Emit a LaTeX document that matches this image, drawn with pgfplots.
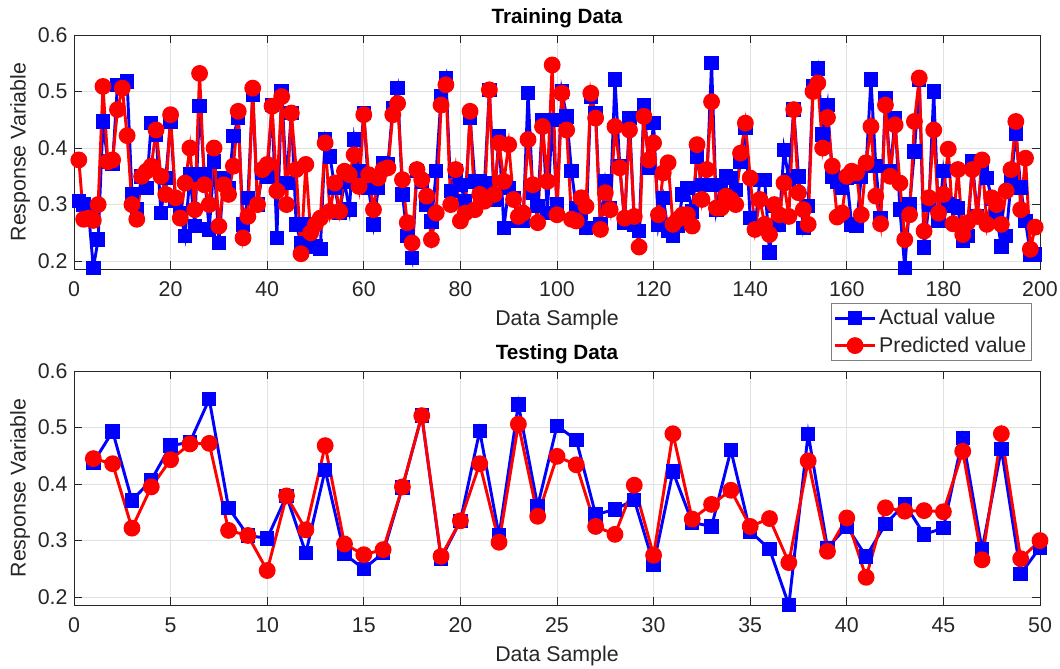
\documentclass[border=0pt]{standalone}
\usepackage{fontspec}
\setmainfont{Liberation Sans}
\usepackage{pgfplots}
\usepackage{pgfplotstable}
\pgfplotsset{compat=1.18}

\definecolor{axgray}{RGB}{38,38,38}
\definecolor{gridgray}{RGB}{225,225,225}

% training set: sample, actual, predicted
\pgfplotstableread{
x a p
1 0.306 0.379
2 0.300 0.274
3 0.288 0.276
4 0.188 0.272
5 0.238 0.300
6 0.447 0.509
7 0.376 0.376
8 0.373 0.379
9 0.512 0.468
10 0.512 0.506
11 0.518 0.422
12 0.318 0.300
13 0.291 0.274
14 0.350 0.350
15 0.329 0.359
16 0.444 0.368
17 0.424 0.432
18 0.285 0.350
19 0.347 0.318
20 0.447 0.459
21 0.306 0.312
22 0.285 0.276
23 0.244 0.338
24 0.353 0.400
25 0.262 0.291
26 0.474 0.532
27 0.353 0.335
28 0.256 0.300
29 0.376 0.400
30 0.232 0.262
31 0.347 0.335
32 0.329 0.318
33 0.421 0.368
34 0.453 0.465
35 0.265 0.241
36 0.312 0.279
37 0.494 0.506
38 0.300 0.300
39 0.356 0.362
40 0.350 0.371
41 0.476 0.474
42 0.241 0.324
43 0.500 0.491
44 0.338 0.300
45 0.462 0.462
46 0.265 0.362
47 0.232 0.213
48 0.265 0.371
49 0.265 0.250
50 0.226 0.265
51 0.221 0.276
52 0.415 0.409
53 0.385 0.288
54 0.329 0.338
55 0.285 0.288
56 0.341 0.359
57 0.291 0.353
58 0.415 0.388
59 0.359 0.332
60 0.462 0.459
61 0.329 0.353
62 0.265 0.291
63 0.329 0.347
64 0.373 0.362
65 0.371 0.365
66 0.471 0.459
67 0.506 0.479
68 0.318 0.344
69 0.244 0.268
70 0.206 0.232
71 0.359 0.362
72 0.341 0.344
73 0.300 0.315
74 0.270 0.238
75 0.359 0.285
76 0.491 0.476
77 0.524 0.512
78 0.324 0.300
79 0.359 0.362
80 0.335 0.271
81 0.306 0.285
82 0.453 0.465
83 0.341 0.291
84 0.341 0.318
85 0.338 0.306
86 0.503 0.503
87 0.309 0.318
88 0.421 0.409
89 0.259 0.341
90 0.329 0.406
91 0.312 0.309
92 0.271 0.279
93 0.271 0.285
94 0.497 0.415
95 0.321 0.335
96 0.297 0.268
97 0.450 0.438
98 0.285 0.341
99 0.450 0.547
100 0.300 0.282
101 0.500 0.497
102 0.456 0.432
103 0.359 0.274
104 0.294 0.271
105 0.285 0.312
106 0.259 0.297
107 0.491 0.497
108 0.462 0.453
109 0.265 0.256
110 0.341 0.321
111 0.294 0.291
112 0.521 0.438
113 0.368 0.365
114 0.268 0.276
115 0.453 0.432
116 0.265 0.279
117 0.253 0.225
118 0.476 0.456
119 0.365 0.379
120 0.444 0.409
121 0.265 0.282
122 0.312 0.356
123 0.253 0.374
124 0.244 0.265
125 0.262 0.274
126 0.318 0.282
127 0.329 0.282
128 0.288 0.262
129 0.385 0.406
130 0.335 0.309
131 0.335 0.362
132 0.550 0.482
133 0.291 0.294
134 0.335 0.294
135 0.350 0.315
136 0.347 0.309
137 0.326 0.300
138 0.376 0.391
139 0.435 0.444
140 0.276 0.347
141 0.259 0.256
142 0.344 0.309
143 0.344 0.265
144 0.215 0.247
145 0.297 0.300
146 0.265 0.282
147 0.397 0.338
148 0.344 0.279
149 0.468 0.468
150 0.350 0.321
151 0.259 0.291
152 0.297 0.265
153 0.509 0.500
154 0.541 0.515
155 0.424 0.400
156 0.476 0.454
157 0.350 0.368
158 0.341 0.278
159 0.329 0.285
160 0.347 0.350
161 0.265 0.359
162 0.262 0.356
163 0.350 0.282
164 0.368 0.374
165 0.521 0.438
166 0.368 0.315
167 0.276 0.266
168 0.488 0.476
169 0.359 0.350
170 0.453 0.441
171 0.291 0.338
172 0.188 0.238
173 0.300 0.282
174 0.394 0.447
175 0.520 0.524
176 0.224 0.253
177 0.300 0.312
178 0.500 0.432
179 0.271 0.285
180 0.359 0.318
181 0.300 0.398
182 0.297 0.266
183 0.294 0.362
184 0.236 0.247
185 0.244 0.268
186 0.376 0.362
187 0.280 0.279
188 0.371 0.379
189 0.347 0.265
190 0.310 0.312
191 0.279 0.300
192 0.226 0.265
193 0.244 0.324
194 0.341 0.362
195 0.426 0.447
196 0.330 0.291
197 0.271 0.382
198 0.212 0.221
199 0.212 0.260
}\traindata

% testing set
\pgfplotstableread{
x a p
1 0.438 0.445
2 0.493 0.436
3 0.371 0.322
4 0.407 0.395
5 0.468 0.443
6 0.474 0.471
7 0.550 0.472
8 0.358 0.318
9 0.309 0.309
10 0.304 0.247
11 0.379 0.379
12 0.278 0.319
13 0.425 0.468
14 0.276 0.294
15 0.250 0.275
16 0.278 0.284
17 0.394 0.395
18 0.521 0.521
19 0.268 0.272
20 0.335 0.335
21 0.494 0.436
22 0.309 0.297
23 0.541 0.506
24 0.361 0.343
25 0.503 0.449
26 0.478 0.434
27 0.346 0.325
28 0.355 0.311
29 0.372 0.398
30 0.258 0.274
31 0.422 0.489
32 0.332 0.338
33 0.325 0.364
34 0.460 0.389
35 0.316 0.325
36 0.285 0.339
37 0.186 0.261
38 0.489 0.441
39 0.287 0.281
40 0.325 0.340
41 0.272 0.235
42 0.329 0.358
43 0.365 0.352
44 0.311 0.353
45 0.322 0.351
46 0.482 0.458
47 0.284 0.266
48 0.462 0.489
49 0.241 0.268
50 0.288 0.300
}\testdata

\pgfplotsset{
  resp/.style={
    scale only axis,
    width=724.5pt, height=175.5pt,
    ymin=0.186, ymax=0.6,
    ytick={0.2,0.3,0.4,0.5,0.6},
    yticklabel style={xshift=-1.4pt},
    xticklabel style={yshift=-5.9pt},
    yticklabel style={/pgf/number format/.cd,fixed,fixed zerofill,precision=1},
    /pgf/number format/assume math mode=true,
    tick label style={font=\fontsize{16}{19}\selectfont, text=axgray},
    label style={font=\fontsize{16}{19}\selectfont, text=axgray},
    xlabel style={at={(axis description cs:0.5,-0.2393)}, anchor=base},
    ylabel style={at={(axis description cs:-0.0559,0.5)}, anchor=center},
    title style={font=\fontsize{15.5}{18}\selectfont\bfseries,
      at={(axis description cs:0.5,1)}, anchor=base, yshift=2.5pt},
    axis line style={axgray, line width=0.6pt},
    tick style={axgray, line width=0.6pt},
    tick align=inside,
    major tick length=6pt,
    grid=major,
    grid style={gridgray, line width=0.6pt},
    ylabel={Response Variable},
    xlabel={Data Sample},
  },
  act/.style={blue, line width=2.2pt, mark=square*, mark size=4.3pt,
    mark options={solid, fill=blue, draw=blue}},
  pre/.style={red, line width=2.2pt, mark=*, mark size=5.2pt,
    mark options={solid, fill=red, draw=red}},
}

\begin{document}
\begin{tikzpicture}
\begin{axis}[resp, name=train,
  at={(0,0)}, anchor=north west,
  xmin=0, xmax=200,
  xtick={0,20,...,200},
  title={Training Data},
  legend style={at={(0.9917,-0.1453)}, anchor=north east,
    draw=gray, line width=0.6pt, fill=white,
    font=\fontsize{16}{19}\selectfont, text=axgray,
    inner xsep=2pt, inner ysep=2.5pt, row sep=3.5pt},
  legend cell align=left,
  legend image code/.code={%
    \draw[mark repeat=2, mark phase=2, #1]
      plot coordinates {(0pt,0pt) (15pt,0pt) (30pt,0pt)};},
]
\addplot[act] table[x=x, y=a] {\traindata};
\addlegendentry{Actual value}
\addplot[pre] table[x=x, y=p] {\traindata};
\addlegendentry{Predicted value}
\end{axis}

\begin{axis}[resp,
  at={(0,-252pt)}, anchor=north west,
  xmin=0, xmax=50,
  xtick={0,5,...,50},
  title={Testing Data},
]
\addplot[act] table[x=x, y=a] {\testdata};
\addplot[pre] table[x=x, y=p] {\testdata};
\end{axis}

\pgfresetboundingbox
\path[use as bounding box] (train.north west) ++(-55.5pt,26.25pt) rectangle ++(795pt,-501pt);
\end{tikzpicture}
\end{document}
